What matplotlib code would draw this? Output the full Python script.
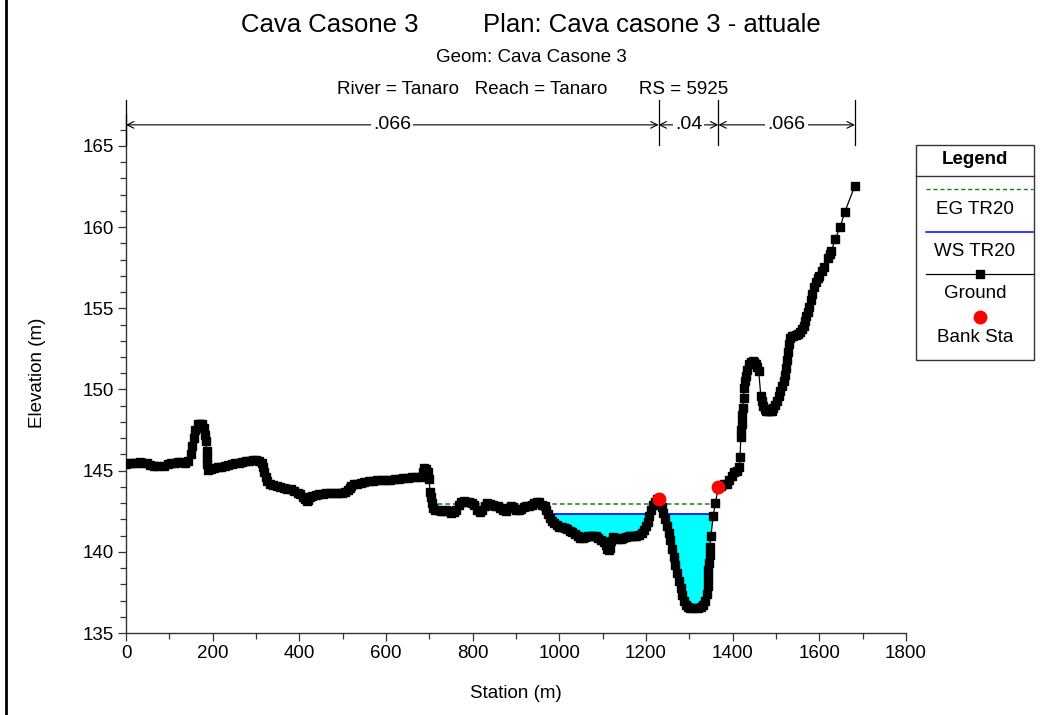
import numpy as np
import matplotlib
matplotlib.use("Agg")
import matplotlib.pyplot as plt
from matplotlib.lines import Line2D
from matplotlib.patches import Rectangle

plt.rcParams['font.family'] = ['Liberation Sans', 'DejaVu Sans']

# ---- cross-section data ----
station = [
    0, 8, 16, 24, 32, 40, 48, 56, 64, 72, 88, 96, 104, 112, 120, 128, 136, 144,
    150, 153, 156, 160, 165, 170, 175, 179, 182, 184, 186, 187, 188, 190, 196,
    204, 212, 220, 228, 236, 244, 252, 260, 268, 276, 284, 292, 300, 308, 313,
    316, 319, 322, 326, 332, 340, 348, 356, 364, 372, 380, 388, 396, 402, 408,
    413, 417, 420, 424, 430, 438, 446, 454, 462, 470, 482, 490, 498, 506, 512,
    516, 520, 526, 534, 542, 550, 560, 570, 580, 590, 600, 610, 620, 630, 640,
    650, 660, 670, 680, 685, 688, 692, 696, 699, 702, 704, 706, 709, 714, 720,
    726, 732, 738, 744, 750, 756, 762, 768, 774, 780, 786, 792, 798, 804, 810,
    816, 822, 828, 834, 840, 846, 852, 858, 864, 870, 876, 882, 888, 894, 900,
    906, 912, 918, 924, 930, 936, 942, 948, 954, 960, 966, 970, 974, 978, 983,
    988, 994, 1000, 1006, 1012, 1018, 1024, 1030, 1036, 1042, 1048, 1054, 1060,
    1066, 1072, 1078, 1084, 1090, 1096, 1102, 1107, 1111, 1114, 1117, 1120,
    1124, 1130, 1136, 1142, 1148, 1154, 1160, 1166, 1172, 1178, 1184, 1190,
    1196, 1200, 1204, 1208, 1212, 1216, 1220, 1225, 1229, 1232, 1236, 1240,
    1244, 1248, 1252, 1256, 1260, 1264, 1268, 1272, 1276, 1280, 1284, 1288,
    1292, 1296, 1302, 1308, 1320, 1326, 1332, 1337, 1340, 1342, 1343, 1344,
    1346, 1347, 1348, 1350, 1355, 1360, 1367, 1374, 1380, 1386, 1392, 1398,
    1404, 1410, 1415, 1417, 1419, 1420, 1421, 1422, 1423, 1425, 1427, 1429,
    1431, 1434, 1438, 1442, 1446, 1450, 1454, 1457, 1460, 1465, 1468, 1471,
    1474, 1478, 1482, 1486, 1490, 1494, 1498, 1502, 1506, 1510, 1514, 1518,
    1521, 1523, 1525, 1527, 1529, 1532, 1536, 1540, 1545, 1550, 1555, 1560,
    1564, 1567, 1570, 1573, 1576, 1580, 1584, 1588, 1592, 1596, 1600, 1606,
    1611, 1619, 1624, 1628, 1636, 1648, 1659, 1682,
]
elevation = [
    145.4, 145.45, 145.5, 145.5, 145.55, 145.5, 145.45, 145.35, 145.3, 145.3,
    145.3, 145.4, 145.45, 145.5, 145.55, 145.55, 145.5, 145.6,
    146.0, 146.5, 147.0, 147.5, 147.85, 147.9, 147.85, 147.6, 147.2, 146.8,
    146.2, 145.8, 145.4, 145.05, 145.1,
    145.15, 145.2, 145.25, 145.3, 145.35, 145.4, 145.45, 145.5, 145.55, 145.6,
    145.62, 145.65, 145.65, 145.6, 145.5,
    145.2, 144.9, 144.6, 144.35, 144.2, 144.1, 144.05, 144.0, 143.95, 143.9,
    143.85, 143.75, 143.65, 143.55, 143.4,
    143.25, 143.15, 143.2, 143.35, 143.45, 143.5, 143.55, 143.55, 143.6,
    143.6, 143.6, 143.65, 143.65, 143.7, 143.8,
    143.95, 144.05, 144.15, 144.2, 144.25, 144.3, 144.35, 144.35, 144.4,
    144.4, 144.45, 144.45, 144.5, 144.5, 144.55,
    144.55, 144.6, 144.6, 144.6, 144.9, 145.15, 145.1, 144.9, 144.5, 143.7,
    143.4, 143.0, 142.7, 142.6, 142.55,
    142.5, 142.5, 142.55, 142.5, 142.4, 142.45, 142.6, 142.9, 143.1, 143.15,
    143.1, 143.05, 143.0, 142.9, 142.6,
    142.45, 142.55, 142.85, 143.0, 142.95, 142.9, 142.85, 142.8, 142.7, 142.55,
    142.5, 142.7, 142.85, 142.75, 142.6,
    142.55, 142.65, 142.75, 142.8, 142.85, 142.9, 143.0, 143.1, 143.05, 142.9,
    142.8, 142.6, 142.35, 142.1, 141.9,
    141.75, 141.65, 141.55, 141.5, 141.45, 141.4, 141.3, 141.2, 141.1, 140.95,
    140.85, 140.85, 140.9,
    140.95, 141.0, 141.0, 140.95, 140.85, 140.75, 140.6, 140.4, 140.2, 140.1,
    140.25, 140.65,
    140.9, 140.85, 140.8, 140.8, 140.85, 140.9, 140.95, 140.95, 141.0, 141.0,
    141.05, 141.15,
    141.35, 141.6, 141.85, 142.2, 142.6, 142.9, 143.1, 143.25, 143.25, 143.0,
    142.75, 142.4,
    142.0, 141.6, 141.15, 140.7, 140.2, 139.7, 139.2, 138.7, 138.2, 137.75,
    137.35, 137.0,
    136.75, 136.6, 136.55, 136.55, 136.55, 136.6, 136.75, 137.0, 137.4, 137.9,
    138.4, 138.9,
    139.3, 139.8, 140.3, 141.0, 142.2, 143.0, 143.97, 144.05, 144.15, 144.2,
    144.45, 144.7,
    144.9, 145.0, 145.25, 145.85, 147.1, 147.5, 147.9, 148.4, 148.85, 149.5,
    150.1, 150.5,
    150.8, 151.2, 151.55, 151.7, 151.75, 151.7, 151.6, 151.4, 151.15, 149.6,
    149.3, 149.0,
    148.8, 148.7, 148.65, 148.65, 148.7, 148.85, 149.05, 149.3, 149.6, 149.9,
    150.2, 150.5,
    150.9, 151.3, 151.8, 152.3, 152.8, 153.2, 153.3, 153.3, 153.35, 153.4,
    153.55, 153.7,
    153.9, 154.2, 154.5, 154.8, 155.1, 155.5, 155.9, 156.3, 156.6, 156.85,
    157.0, 157.3,
    157.55, 158.1, 158.35, 158.5, 159.25, 160.0, 160.95, 162.55,
]

bank_station = [1229, 1367]
bank_elevation = [143.25, 143.97]

ws_elev = 142.33      # WS TR20
eg_elev = 142.95      # EG TR20
eg_range = [702, 1364]

mann_break = [0, 1229, 1367, 1682]
mann_n = [".066", ".04", ".066"]

x_ticks = list(range(0, 1801, 200))
y_ticks = list(range(135, 166, 5))

# ---- figure ----
W, H = 1040, 715
fig = plt.figure(figsize=(W / 100, H / 100), dpi=100)


def fx(px):
    return px / W


def fy(py):
    return 1 - py / H


ax = fig.add_axes([fx(126), fy(633), fx(906) - fx(126), fy(113.5) - fy(633)])
ax.set_xlim(0, 1800)
ax.set_ylim(135, 167)

sta = np.array(station, dtype=float)
elv = np.array(elevation, dtype=float)

# water in the main channel area
wet = (elv < ws_elev) & (sta > 960)
ax.fill_between(sta, elv, ws_elev, where=wet, interpolate=True,
                color='#00ffff', lw=0, zorder=1)

# water surface drawn between its crossings with the ground
sign = np.sign(elv - ws_elev)
cross = []
for i in range(len(sta) - 1):
    if sta[i] < 960:
        continue
    if sign[i] != sign[i + 1] and sign[i] != 0:
        t = (ws_elev - elv[i]) / (elv[i + 1] - elv[i])
        cross.append(sta[i] + t * (sta[i + 1] - sta[i]))
for a, b in zip(cross[0::2], cross[1::2]):
    ax.plot([a, b], [ws_elev, ws_elev], color='#0000ff', lw=1.2, zorder=2)

ax.plot(eg_range, [eg_elev, eg_elev], color='#1f7a1f', lw=1.1,
        dashes=(3, 2), zorder=2)

ax.plot(sta, elv, color='black', lw=0.9, marker='s', ms=6.2,
        mfc='black', mec='black', zorder=3)
ax.plot(bank_station, bank_elevation, 'o', color='#ff0000', ms=10, mec='none',
        zorder=4)

# Manning's n strip above the plot
for s in mann_break:
    ax.plot([s, s], [165.05, 167.83], color='black', lw=0.9, clip_on=False,
            zorder=5)
y_arrow = 166.3
for i, n in enumerate(mann_n):
    a, b = mann_break[i], mann_break[i + 1]
    ax.annotate('', xy=(a, y_arrow), xytext=(b, y_arrow),
                arrowprops=dict(arrowstyle='<->', lw=0.8, color='black',
                                shrinkA=0, shrinkB=0,
                                mutation_scale=12),
                annotation_clip=False)
    ax.text((a + b) / 2, y_arrow, n, ha='center', va='center', fontsize=14,
            bbox=dict(facecolor='white', edgecolor='none', pad=1.5),
            zorder=6, clip_on=False)

# axes styling
for s in ('top', 'right'):
    ax.spines[s].set_visible(False)
for s in ('left', 'bottom'):
    ax.spines[s].set_color('#333333')
    ax.spines[s].set_linewidth(1.0)
ax.set_xticks(x_ticks)
ax.set_yticks(y_ticks)
ax.set_xticks(range(100, 1800, 200), minor=True)
ax.set_yticks([v for v in range(135, 167) if v % 5], minor=True)
ax.tick_params(which='major', length=6, width=0.9, color='#333333',
               labelsize=13.5, direction='out', pad=3)
ax.tick_params(which='minor', length=4, width=0.9, color='#333333',
               direction='out')
ax.set_xlabel('Station (m)', fontsize=13.5, labelpad=16)
ax.set_ylabel('Elevation (m)', fontsize=13.5, labelpad=26)

# titles
fig.text(fx(241), fy(25), 'Cava Casone 3', fontsize=18.5, ha='left',
         va='center')
fig.text(fx(821), fy(25), 'Plan: Cava casone 3 - attuale', fontsize=18.5,
         ha='right', va='center')
fig.text(fx(531), fy(58), 'Geom: Cava Casone 3', fontsize=13.5, ha='center',
         va='center')
fig.text(fx(533), fy(90),
         'River = Tanaro   Reach = Tanaro      RS = 5925',
         fontsize=13.5, ha='center', va='center')

# legend box
lx0, lx1, ly0, ly1 = 916, 1034, 145, 360
fig.add_artist(Rectangle((fx(lx0), fy(ly1)), fx(lx1) - fx(lx0),
                         fy(ly0) - fy(ly1), transform=fig.transFigure,
                         facecolor='white', edgecolor='#333333', lw=1.0))
fig.add_artist(Line2D([fx(lx0), fx(lx1)], [fy(176), fy(176)],
                      color='#333333', lw=1.0))
lc = (lx0 + lx1) / 2
fig.text(fx(lc), fy(160), 'Legend', fontsize=13.5, fontweight='bold',
         ha='center', va='center')
fig.add_artist(Line2D([fx(926), fx(1033)], [fy(189), fy(189)],
                      color='#1f7a1f', lw=1.0, dashes=(3, 2)))
fig.text(fx(lc), fy(209), 'EG TR20', fontsize=13.5, ha='center', va='center')
fig.add_artist(Line2D([fx(926), fx(1033)], [fy(232), fy(232)],
                      color='#0000ff', lw=1.1))
fig.text(fx(lc), fy(251), 'WS TR20', fontsize=13.5, ha='center', va='center')
fig.add_artist(Line2D([fx(926), fx(1033)], [fy(274), fy(274)],
                      color='black', lw=0.9))
fig.add_artist(Line2D([fx(980)], [fy(274)], marker='s', ms=5.6,
                      color='black', lw=0))
fig.text(fx(lc), fy(294), 'Ground', fontsize=13.5, ha='center', va='center')
fig.add_artist(Line2D([fx(980)], [fy(317)], marker='o', ms=10,
                      color='#ff0000', mec='none', lw=0))
fig.text(fx(lc), fy(337), 'Bank Sta', fontsize=13.5, ha='center',
         va='center')

# window frame edge on the left
fig.add_artist(Line2D([fx(6), fx(6)], [0, 1], color='black', lw=2.0))

fig.savefig('out.png', dpi=100)
